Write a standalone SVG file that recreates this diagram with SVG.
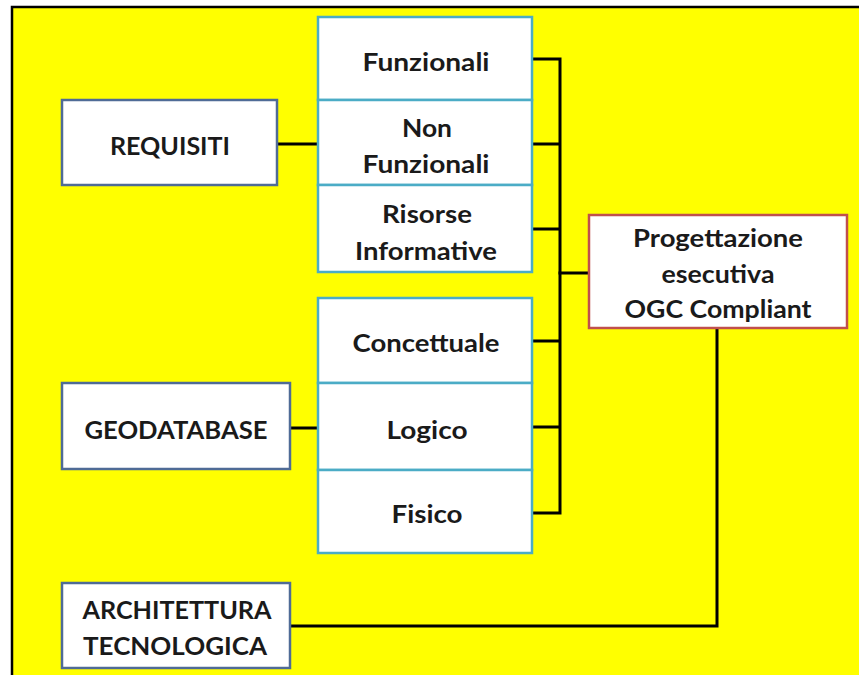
<svg xmlns="http://www.w3.org/2000/svg" width="859" height="675" viewBox="0 0 859 675">
<style>
.t{font-family:Lato,"Liberation Sans",sans-serif;font-weight:bold;font-size:25px;fill:#1a1a1a;text-anchor:middle;dominant-baseline:central}
.blue{fill:#fff;stroke:#4f6b96;stroke-width:2.5}
.teal{fill:#fff;stroke:#4bacc6;stroke-width:2.5}
.red{fill:#fff;stroke:#c0504d;stroke-width:2.5}
.c{fill:none;stroke:#000;stroke-width:3;stroke-linecap:square}
</style>
<rect x="0" y="0" width="859" height="675" fill="#fff"/>
<rect x="12" y="7" width="847" height="668" fill="#ffff00"/>
<path d="M12 675 V7 H859" fill="none" stroke="#000" stroke-width="2.5"/>
<g id="connectors">
<path class="c" d="M277 144 H318"/>
<path class="c" d="M290 428 H318"/>
<path class="c" d="M532 59 H560 M532 144 H560 M532 229 H560 M532 341 H560 M532 427 H560 M532 513 H560 M560 59 V513"/>
<path class="c" d="M560 273 H589" stroke-width="5"/>
<path class="c" d="M290 626 H717 V328"/>
</g>
<g id="requisiti"><rect class="blue" x="62" y="100" width="215" height="85"/><text class="t" x="170" y="145" textLength="120" lengthAdjust="spacingAndGlyphs">REQUISITI</text></g>
<g id="funzionali"><rect class="teal" x="318" y="17" width="214" height="83"/><text class="t" x="426" y="61" textLength="127" lengthAdjust="spacingAndGlyphs">Funzionali</text></g>
<g id="non-funzionali"><rect class="teal" x="318" y="100" width="214" height="85"/><text class="t" x="427" y="127" textLength="50" lengthAdjust="spacingAndGlyphs">Non</text><text class="t" x="426" y="163" textLength="127" lengthAdjust="spacingAndGlyphs">Funzionali</text></g>
<g id="risorse"><rect class="teal" x="318" y="185" width="214" height="87"/><text class="t" x="427" y="213" textLength="90" lengthAdjust="spacingAndGlyphs">Risorse</text><text class="t" x="426" y="250" textLength="142" lengthAdjust="spacingAndGlyphs">Informative</text></g>
<g id="concettuale"><rect class="teal" x="318" y="298" width="214" height="85"/><text class="t" x="426" y="342" textLength="147" lengthAdjust="spacingAndGlyphs">Concettuale</text></g>
<g id="logico"><rect class="teal" x="318" y="383" width="214" height="87"/><text class="t" x="427" y="429" textLength="81" lengthAdjust="spacingAndGlyphs">Logico</text></g>
<g id="fisico"><rect class="teal" x="318" y="470" width="214" height="83"/><text class="t" x="427" y="513" textLength="71" lengthAdjust="spacingAndGlyphs">Fisico</text></g>
<g id="geodatabase"><rect class="blue" x="62" y="383" width="228" height="86"/><text class="t" x="176" y="429" textLength="183" lengthAdjust="spacingAndGlyphs">GEODATABASE</text></g>
<g id="architettura"><rect class="blue" x="62" y="583" width="228" height="85"/><text class="t" x="177" y="609" textLength="189" lengthAdjust="spacingAndGlyphs">ARCHITETTURA</text><text class="t" x="175" y="645" textLength="184" lengthAdjust="spacingAndGlyphs">TECNOLOGICA</text></g>
<g id="progettazione"><rect class="red" x="589" y="215" width="258" height="113"/><text class="t" x="718" y="237" textLength="170" lengthAdjust="spacingAndGlyphs">Progettazione</text><text class="t" x="718" y="273" textLength="113" lengthAdjust="spacingAndGlyphs">esecutiva</text><text class="t" x="718" y="308" textLength="187" lengthAdjust="spacingAndGlyphs">OGC Compliant</text></g>
</svg>
